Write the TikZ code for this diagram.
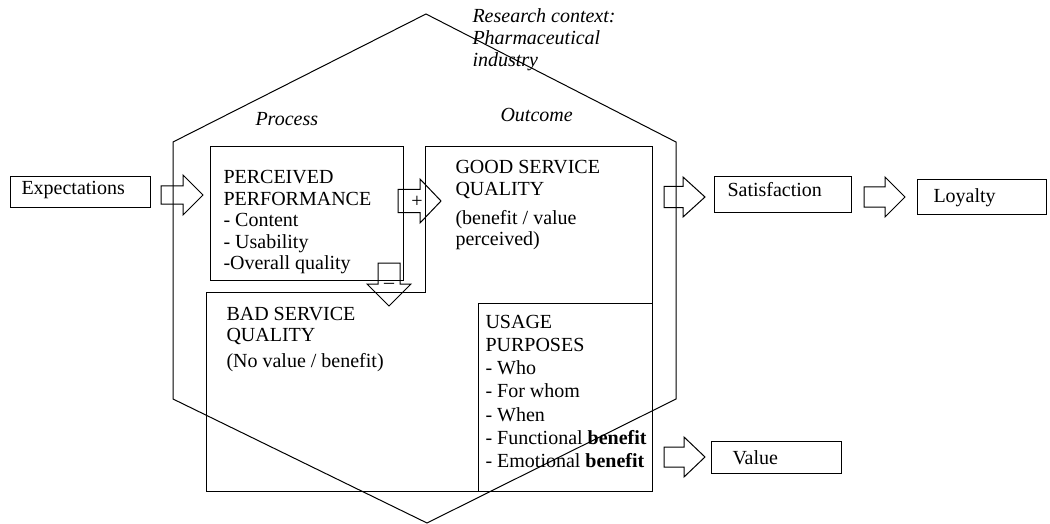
\documentclass[tikz,border=0pt]{standalone}
\usepackage{fontspec}
\setmainfont{Liberation Serif}
\begin{document}
\begin{tikzpicture}[x=0.5pt,y=-0.5pt,
  line width=0.5pt,
  box/.style={draw,rectangle,inner sep=0pt},
  txt/.style={anchor=base west,inner sep=0pt,font=\fontsize{10}{10.7}\selectfont},
  itxt/.style={anchor=base west,inner sep=0pt,font=\fontsize{10}{10.8}\selectfont\itshape},
  blk/.style={draw,line join=miter}]
\useasboundingbox (0,0) rectangle (1050,524);
\newcommand\rblk[6]{\draw[blk] ({#1},{#4-#5}) -- ({#2},{#4-#5}) -- ({#2},{#4-#6}) -- ({#3},{#4}) -- ({#2},{#4+#6}) -- ({#2},{#4+#5}) -- ({#1},{#4+#5}) -- cycle;}
\newcommand\dblk[6]{\draw[blk] ({#4-#5},{#1}) -- ({#4-#5},{#2}) -- ({#4-#6},{#2}) -- ({#4},{#3}) -- ({#4+#6},{#2}) -- ({#4+#5},{#2}) -- ({#4+#5},{#1}) -- cycle;}
\newcommand\lines[1]{\begin{tabular}[t]{@{}l@{}}#1\end{tabular}}
% corner coordinates
\coordinate (gbA) at (206,292);
\coordinate (gbB) at (425,292);
\coordinate (gbC) at (425,147);
\coordinate (gbD) at (652,147);
\coordinate (gbE) at (652,491);
\coordinate (gbF) at (206,491);
% boxes
\node[box,minimum width=70pt,minimum height=15.5pt,anchor=north west] (exp) at (10,176) {};
\node[box,minimum width=96.5pt,minimum height=67pt,anchor=north west] (perc) at (210,146) {};
\draw (gbA) -- (gbB) -- (gbC) -- (gbD) -- (gbE) -- (gbF) -- cycle;
\node[box,minimum width=87pt,minimum height=94pt,anchor=north west] (usage) at (478,303) {};
\node[box,minimum width=68.5pt,minimum height=18pt,anchor=north west] (sat) at (714,176) {};
\node[box,minimum width=64.5pt,minimum height=17.5pt,anchor=north west] (loy) at (917,179) {};
\node[box,minimum width=65pt,minimum height=16pt,anchor=north west] (val) at (711,441) {};
% texts
\node[txt] (expT) at (21,195) {Expectations};
\node[txt] (percT) at (223,184) {\lines{PERCEIVED\\PERFORMANCE\\- Content\\- Usability\\-Overall quality}};
\node[txt] (goodT) at (455,174) {\lines{GOOD SERVICE\\QUALITY\\[3.6pt](benefit / value\\perceived)}};
\node[txt] (badT) at (226,320) {\lines{BAD SERVICE\\QUALITY\\[2.6pt](No value / benefit)}};
\node[txt,font=\fontsize{10}{11.65}\selectfont] (usageT) at (485,328) {\lines{USAGE\\PURPOSES\\- Who\\- For whom\\- When\\- Functional \textbf{benefit}\\- Emotional \textbf{benefit}}};
\node[txt] (satT) at (727,197) {Satisfaction};
\node[txt] (loyT) at (933,203) {Loyalty};
\node[txt] (valT) at (732,464) {Value};
\node[itxt] (proc) at (255,126) {Process};
\node[itxt] (outc) at (500,122) {Outcome};
\node[itxt] (ctx) at (472,23) {\lines{Research context:\\Pharmaceutical\\industry}};
% block arrows
\rblk{161}{183}{203}{195}{9}{20}
\rblk{398}{420}{441}{201}{11.5}{22}
\rblk{664}{683}{705}{197}{10.5}{20}
\rblk{864}{885}{905}{197}{10}{20}
\rblk{664}{684}{705}{457}{10}{20}
\dblk{263}{284}{306}{389}{11}{22}
\node[inner sep=0pt,font=\fontsize{10}{12}\selectfont] (plus) at (417,202) {+};
\node[inner sep=0pt,font=\fontsize{10}{12}\selectfont] (minus) at (389,286) {--};
% hexagon
\draw (426,14) -- (676,142) -- (676,399) -- (427,523) -- (173,399) -- (173,142) -- cycle;
\end{tikzpicture}
\end{document}
